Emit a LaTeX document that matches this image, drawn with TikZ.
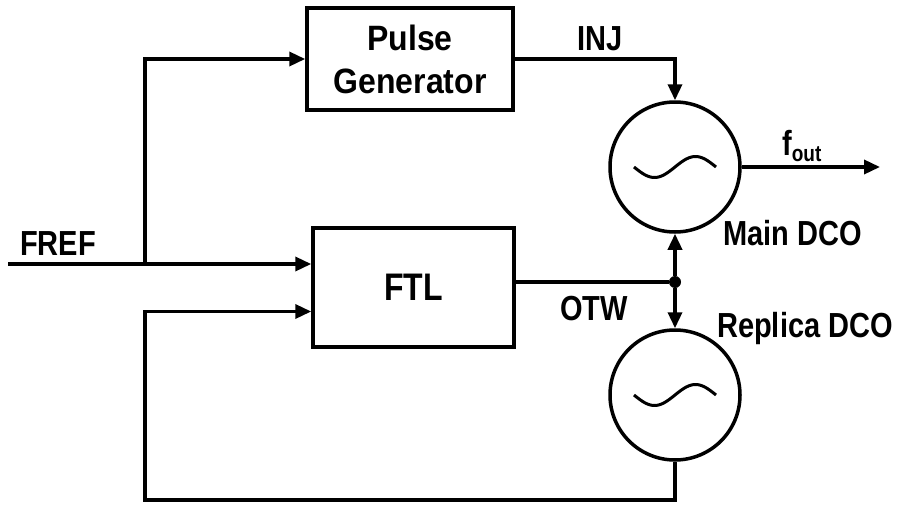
\documentclass[tikz,border=0pt]{standalone}
\usepackage{graphicx}
\usepackage{fontspec}
\setmainfont{Liberation Sans}
\usetikzlibrary{arrows.meta,positioning,calc}
\newcommand{\tall}[1]{\scalebox{1}[1.2]{#1}}

\begin{document}
\begin{tikzpicture}[x=1pt,y=-1pt,
    blk/.style={draw,line width=3.5pt,inner sep=0pt,align=center,font=\fontsize{32}{43}\selectfont\bfseries},
    dco/.style={circle,draw,line width=3.5pt,minimum size=130pt,inner sep=0pt},
    lbl/.style={font=\fontsize{29}{30}\selectfont\bfseries,inner sep=0pt,anchor=base west},
    wire/.style={line width=3.5pt},
    >={Triangle[length=16pt,width=14pt]}
  ]
  \useasboundingbox (0,0) rectangle (903,506);
  % Blocks
  \node[blk,minimum width=206pt,minimum height=102pt] (pg) at (410,59)
    {\scalebox{1}[1.1]{Pulse}\\\scalebox{1}[1.1]{Generator}};
  \node[blk,minimum width=201pt,minimum height=119pt] (ftl) at (413.5,287.5) {\tall{FTL}};
  % Oscillators
  \node[dco] (main) at (675,167) {};
  \node[dco] (rep) at (675,395) {};
  \foreach \c in {main,rep}
    \draw[line width=3pt,shift={(\c.center)},domain=-41:41,smooth,samples=40]
      plot ({\x},{-10.5*sin(4.39*\x)});
  \node[circle,fill,inner sep=0pt,minimum size=12pt] (jn) at (675,282) {};
  % Reference input
  \coordinate (fref) at (8,264);
  \coordinate (br) at (145,264);
  \draw[wire,->] (fref) -- (fref -| ftl.west);
  \draw[wire,->] (br) |- (pg.west);
  % Injection and output
  \draw[wire,->] (pg.east) -| (main.north);
  \coordinate (fo) at (880,167);
  \draw[wire,->] (main.east) -- (fo);
  % Tuning word
  \draw[wire] (ftl.east |- jn) -- (jn);
  \draw[wire,->] (jn) -- (main.south);
  \draw[wire,->] (jn) -- (rep.north);
  % Feedback
  \coordinate (fbl) at (145,500);
  \draw[wire,->] (rep.south) |- (fbl) |- ($(ftl.west)+(0,24)$);
  % Labels
  \node[lbl] (lfref) at (20,255) {\tall{FREF}};
  \node[lbl] (linj) at (577,50) {\tall{INJ}};
  \node[lbl] (lfout) at (782,155) {\tall{f\raisebox{-5pt}{\fontsize{19}{19}\selectfont out}}};
  \node[lbl] (lmain) at (723,245) {\tall{Main DCO}};
  \node[lbl] (lotw) at (560,320) {\tall{OTW}};
  \node[lbl] (lrep) at (717,337) {\tall{Replica DCO}};
\end{tikzpicture}
\end{document}
